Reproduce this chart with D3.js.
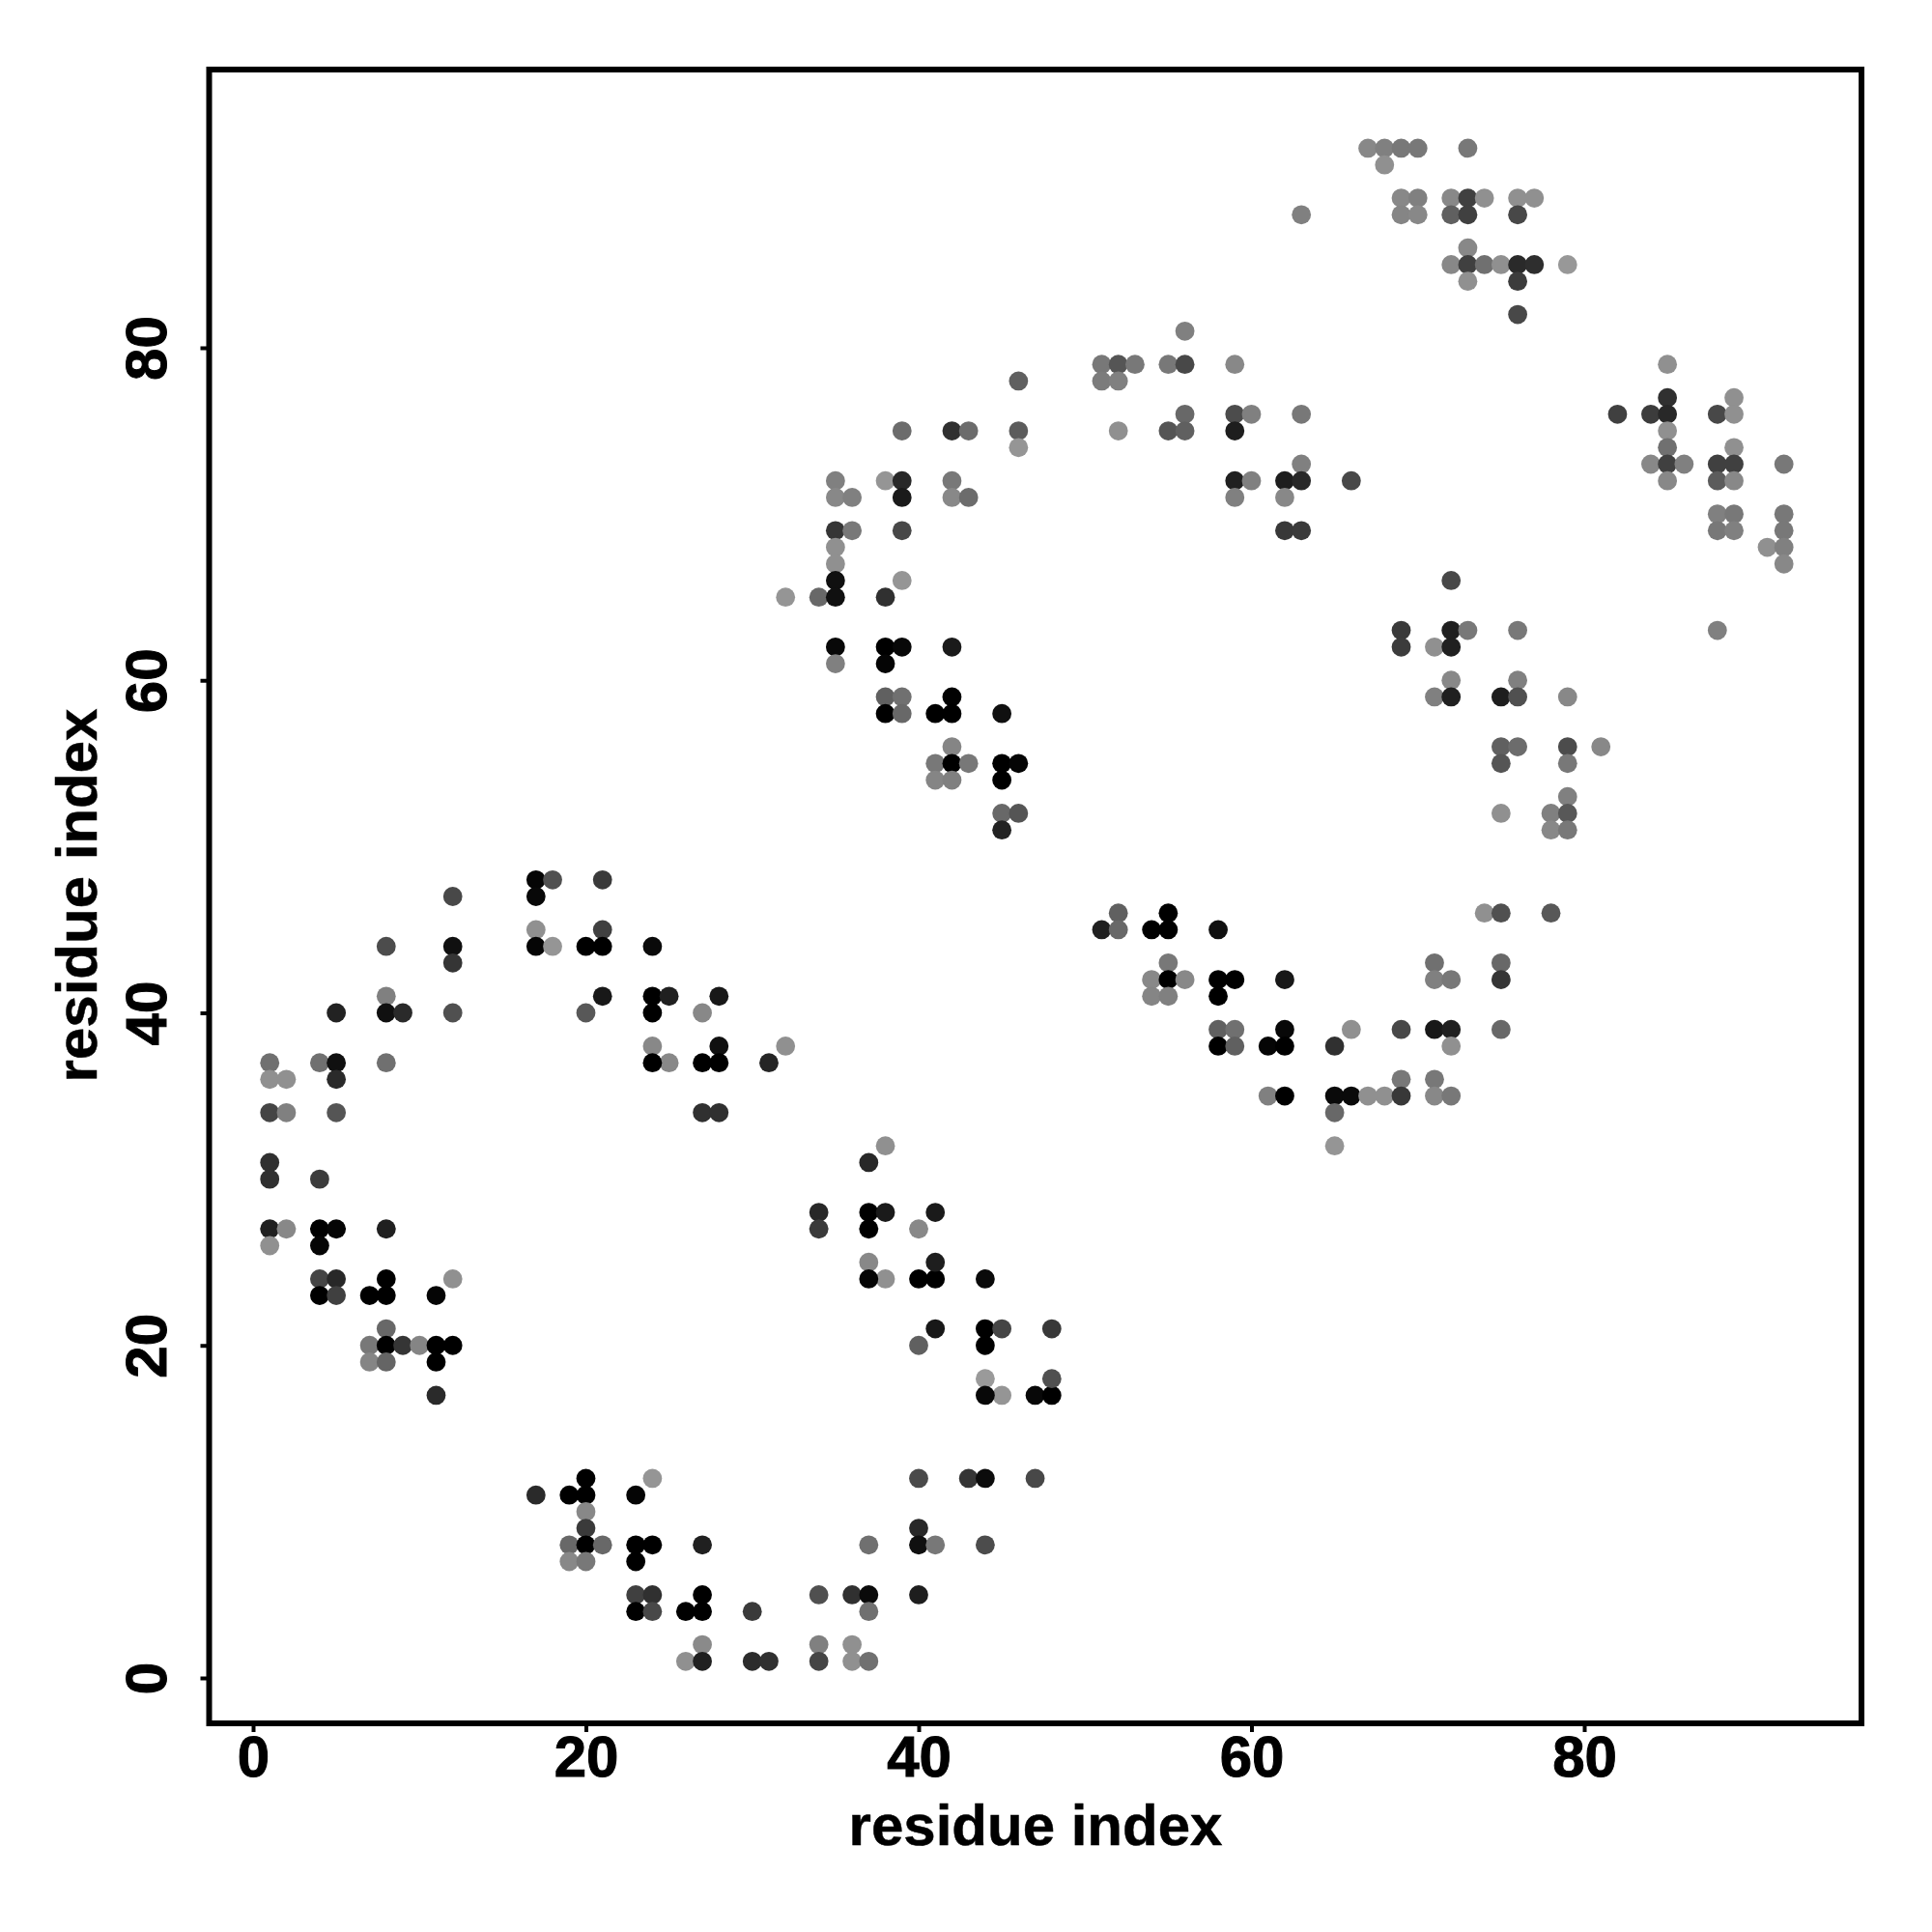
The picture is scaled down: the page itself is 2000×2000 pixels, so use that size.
<!DOCTYPE html>
<html><head><meta charset="utf-8">
<script src="https://cdn.jsdelivr.net/npm/d3@7"></script>
<style>html,body{margin:0;padding:0;background:#fff}svg{display:block}</style>
</head><body><div id="chart"></div>
<script>
// Contact points as "x,y,shade" rows: residue index on each axis and grey level (0 = black).
const clusterLeft = [
[1,37,0x70],[1,36,0x90],[2,36,0x90],[4,37,0x70],[5,37,0x10],[5,36,0x2a],[8,37,0x70],[1,34,0x45],[2,34,0x80],[5,34,0x55],
[1,31,0x30],[1,30,0x30],[4,30,0x3c],[1,27,0x20],[2,27,0x88],[1,26,0x90],[4,27,0],[5,27,5],[4,26,5],[8,27,0x20],
[4,24,0x45],[5,24,0x28],[4,23,0],[5,23,0x40],[7,23,0],[8,24,0],[8,23,0],[11,23,5],[12,24,0x90],
[8,21,0x68],[7,20,0x78],[8,20,0],[9,20,0x35],[10,20,0x85],[11,20,0],[12,20,0],[7,19,0x85],[8,19,0x65],[11,19,0],[11,17,0x2a],
[5,40,0x22],[8,41,0x80],[8,40,0x10],[9,40,0x2a],[12,40,0x50],[8,44,0x4c],[12,44,0x10],[12,43,0x35],[12,47,0x48]];
const clusterMidLeft = [
[17,48,5],[18,48,0x50],[21,48,0x3a],[17,47,8],[17,45,0x90],[21,45,0x40],[17,44,5],[18,44,0x95],[20,44,0],[21,44,0],[24,44,0x0a],
[21,41,0x18],[20,40,0x58],[24,41,0],[25,41,0x20],[24,40,0],[28,41,0x18],[27,40,0x88],[24,38,0x88],[25,37,0x88],[24,37,0],
[27,37,0],[28,38,0x10],[28,37,0],[27,34,0x30],[28,34,0x30],[31,37,0x25],[32,38,0x90]];
const clusterLowerMid = [
[38,32,0x90],[37,31,0x28],[34,28,0x28],[34,27,0x3a],[37,28,0],[38,28,0x1a],[37,27,0],[41,28,0x1a],[40,27,0x88],
[37,25,0x88],[38,24,0x90],[37,24,5],[40,24,0],[41,24,0],[41,25,0x1e],[44,24,0x0a],[41,21,0x18],[40,20,0x60],[44,21,0],[45,21,0x45],[44,20,0],[48,21,0x38],
[44,18,0x9a],[45,17,0x95],[44,17,8],[47,17,8],[48,17,0],[48,18,0x50]];
const clusterBottom = [
[20,12,0],[17,11,0x2a],[19,11,0],[20,11,0],[23,11,5],[24,12,0x95],[20,10,0x88],[20,9,0x3a],[19,8,0x68],[20,8,0],[21,8,0x68],[23,8,0],[24,8,0],[23,7,0],[27,8,0x20],[19,7,0x88],[20,7,0x78],
[40,12,0x4a],[43,12,0x35],[44,12,0x0c],[47,12,0x48],[40,9,0x28],[40,8,0x10],[41,8,0x78],[37,8,0x70],[44,8,0x4c],
[23,5,0x40],[24,5,0x30],[23,4,0],[24,4,0x48],[26,4,0],[27,4,0],[27,5,0],[30,4,0x3a],[34,5,0x50],[36,5,0x30],[37,5,0x0a],[37,4,0x70],[40,5,0x1e],
[27,2,0x8a],[26,1,0x90],[27,1,0x20],[30,1,0x2c],[31,1,0x30],[34,2,0x80],[34,1,0x45],[36,2,0x90],[36,1,0x90],[37,1,0x70]];
const clusterUpperMid = [
[46,78,0x60],[39,75,0x6c],[42,75,0x30],[43,75,0x6c],[46,75,0x5c],[46,74,0x95],[35,72,0x80],[35,71,0x88],[36,71,0x80],[38,72,0x95],[39,72,0x28],[39,71,0x1a],[42,72,0x78],[42,71,0x88],[43,71,0x6c],
[35,69,0x35],[36,69,0x78],[39,69,0x48],[35,68,0x90],[35,67,0x90],[35,66,0x10],[39,66,0x95],[32,65,0x95],[34,65,0x68],[35,65,0x10],[38,65,0x30],
[35,62,8],[38,62,0],[39,62,8],[42,62,0x1a],[35,61,0x80],[38,61,5],[38,59,0x60],[39,59,0x70],[42,59,2],[38,58,0],[39,58,0x68],[41,58,0],[42,58,0],[45,58,0x10],
[42,56,0x85],[41,55,0x78],[42,55,0],[43,55,0x78],[45,55,0],[46,55,5],[41,54,0x85],[42,54,0x80],[45,54,0],[45,52,0x68],[46,52,0x55],[45,51,0x22]];
const clusterTopMid = [
[56,81,0x80],[51,79,0x78],[52,79,0x55],[53,79,0x78],[55,79,0x78],[56,79,0x48],[59,79,0x88],[51,78,0x7c],[52,78,0x80],
[56,76,0x68],[59,76,0x4c],[60,76,0x80],[63,76,0x78],[52,75,0x90],[55,75,0x55],[56,75,0x60],[59,75,0x1e],[63,73,0x80],
[59,72,0x20],[60,72,0x80],[62,72,0x1e],[63,72,0x28],[66,72,0x48],[59,71,0x80],[62,71,0x88],[62,69,0x38],[63,69,0x3a]];
const clusterTop = [
[67,92,0x88],[68,92,0x80],[69,92,0x78],[70,92,0x78],[73,92,0x78],[68,91,0x90],[69,89,0x88],[70,89,0x80],[72,89,0x88],[73,89,0x40],[74,89,0x90],[76,89,0x90],[77,89,0x90],
[69,88,0x85],[70,88,0x88],[72,88,0x60],[73,88,0x40],[76,88,0x48],[63,88,0x80],[73,86,0x88],[72,85,0x88],[73,85,0x40],[74,85,0x70],[75,85,0x90],[76,85,0x2a],[77,85,0x2e],[79,85,0x98],[73,84,0x90],[76,84,0x3c],[76,82,0x48]];
const clusterRight = [
[85,79,0x90],[85,77,0x30],[89,77,0x90],[82,76,0x40],[84,76,0x3c],[85,76,0x28],[88,76,0x48],[89,76,0x90],[85,75,0x90],[85,74,0x70],[89,74,0x90],[84,73,0x88],[85,73,0x40],[86,73,0x80],[88,73,0x40],[89,73,0x40],[92,73,0x78],
[85,72,0x88],[88,72,0x5c],[89,72,0x88],[88,70,0x80],[89,70,0x78],[92,70,0x78],[88,69,0x78],[89,69,0x80],[92,69,0x78],[91,68,0x90],[92,68,0x80],[92,67,0x88],[88,63,0x80]];
const clusterMidRight = [
[72,66,0x48],[69,63,0x3a],[72,63,0x20],[73,63,0x78],[76,63,0x78],[69,62,0x3c],[71,62,0x90],[72,62,0x20],[72,60,0x88],[76,60,0x80],[71,59,0x80],[72,59,0x20],[75,59,0x1e],[76,59,0x50],[79,59,0x88],
[75,56,0x60],[76,56,0x6c],[79,56,0x4c],[81,56,0x88],[75,55,0x55],[79,55,0x78],[79,53,0x80],[75,52,0x90],[78,52,0x80],[79,52,0x58],[78,51,0x88],[79,51,0x78],[74,46,0x90],[75,46,0x50],[78,46,0x58]];
const clusterCentre = [
[52,46,0x60],[51,45,0x20],[52,45,0x68],[55,46,0],[54,45,0],[55,45,0],[58,45,0x10],[55,43,0x78],[54,42,0x88],[55,42,0],[56,42,0x88],[58,42,0],[59,42,0],[62,42,0x18],[54,41,0x85],[55,41,0x80],[58,41,0],
[71,43,0x70],[71,42,0x80],[72,42,0x78],[75,43,0x68],[75,42,0x35],[58,39,0x60],[59,39,0x70],[62,39,8],[61,38,5],[62,38,0],[58,38,0],[59,38,0x60],[65,38,0x30],[66,39,0x90],[69,39,0x48],[71,39,0x18],[72,39,0x20],[75,39,0x68],[72,38,0x90],
[61,35,0x80],[62,35,0],[65,35,0x0a],[66,35,0x0a],[67,35,0x90],[68,35,0x90],[69,36,0x78],[69,35,0x38],[71,36,0x78],[71,35,0x88],[72,35,0x78],[65,34,0x68],[65,32,0x95]];

const tickValues = [0,20,40,60,80];
const axisLabel = "residue index";
const points = [].concat(clusterLeft,clusterMidLeft,clusterLowerMid,clusterBottom,clusterUpperMid,clusterTopMid,clusterTop,clusterRight,clusterMidRight,clusterCentre);

const W=2000,H=2000, box={l:216.5,r:1927,t:72,b:1784};
const font='"Liberation Sans",Arial,sans-serif';
const x=d3.scaleLinear().domain([0,80]).range([262,1640]);
const y=d3.scaleLinear().domain([0,80]).range([1737,360]);
const svg=d3.select("#chart").append("svg").attr("width",W).attr("height",H).attr("viewBox",`0 0 ${W} ${H}`);
svg.append("rect").attr("width",W).attr("height",H).attr("fill","#fff");

svg.append("g").selectAll("circle").data(points).join("circle")
  .attr("cx",d=>x(d[0])).attr("cy",d=>y(d[1])).attr("r",9.9)
  .attr("fill",d=>d3.rgb(d[2],d[2],d[2]).formatHex());

svg.append("rect").attr("x",box.l).attr("y",box.t).attr("width",box.r-box.l).attr("height",box.b-box.t)
  .attr("fill","none").attr("stroke","#000").attr("stroke-width",6);

const gx=svg.append("g").attr("transform",`translate(0,${box.b})`)
  .call(d3.axisBottom(x).tickValues(tickValues).tickSize(9).tickPadding(0));
gx.select(".domain").remove();
gx.selectAll("line").attr("stroke","#000").attr("stroke-width",4);
gx.selectAll("text").attr("y",55).attr("dy",0).attr("font-family",font).attr("font-weight","bold").attr("font-size",60).attr("fill","#000").attr("stroke","#000").attr("stroke-width",1).attr("text-anchor","middle");

const gy=svg.append("g").attr("transform",`translate(${box.l},0)`)
  .call(d3.axisLeft(y).tickValues(tickValues).tickSize(9).tickPadding(0));
gy.select(".domain").remove();
gy.selectAll("line").attr("stroke","#000").attr("stroke-width",4);
gy.selectAll("text").attr("x",null).attr("dy",0).attr("y",null)
  .attr("transform","translate(-45,0) rotate(-90)").attr("font-family",font).attr("font-weight","bold").attr("font-size",60).attr("fill","#000").attr("stroke","#000").attr("stroke-width",1).attr("text-anchor","middle");

svg.append("text").attr("x",1072).attr("y",1910).attr("text-anchor","middle").attr("font-family",font).attr("font-weight","bold").attr("font-size",60).attr("stroke","#000").attr("stroke-width",0.5).text(axisLabel);
svg.append("text").attr("transform","translate(100,927) rotate(-90)").attr("text-anchor","middle").attr("font-family",font).attr("font-weight","bold").attr("font-size",60).attr("stroke","#000").attr("stroke-width",0.5).text(axisLabel);
</script></body></html>
